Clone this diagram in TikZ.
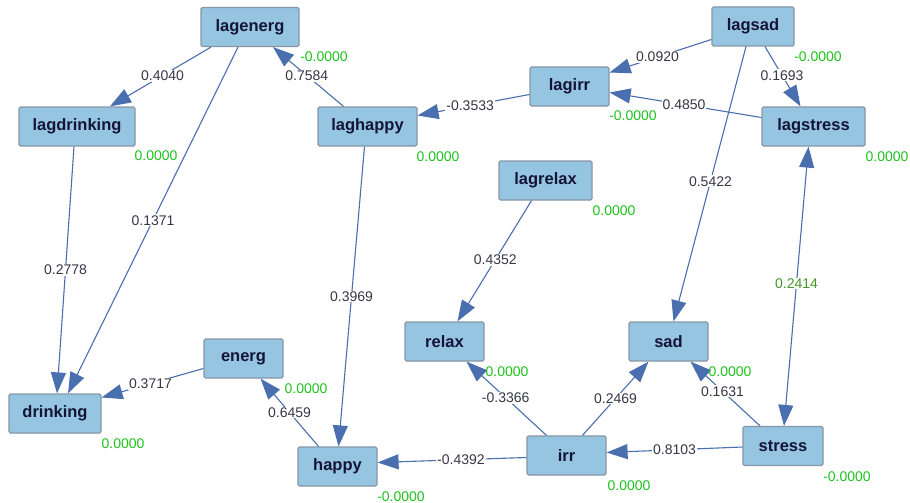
\documentclass[tikz,border=0pt]{standalone}
\usepackage{fontspec}
\setmainfont{Liberation Sans}
\usetikzlibrary{arrows.meta}
\definecolor{boxfill}{RGB}{150,197,226}
\definecolor{boxdraw}{RGB}{135,150,165}
\definecolor{boxtext}{RGB}{20,20,55}
\definecolor{edgecol}{RGB}{74,111,175}
\definecolor{lblcol}{RGB}{55,55,70}
\definecolor{varcol}{RGB}{30,195,30}
\definecolor{covcol}{RGB}{70,150,40}
\begin{document}
\begin{tikzpicture}[x=1pt,y=-1pt,
 box/.style={draw=boxdraw, line width=1.2pt, fill=boxfill, rounded corners=1.5pt, minimum height=39pt, inner sep=0pt, text=boxtext, font=\fontsize{16.5}{18}\selectfont\bfseries},
 pathedge/.style={draw=edgecol, line width=1.1pt, -{Triangle[length=21pt,width=15pt]}},
 covedge/.style={draw=edgecol, line width=1.1pt, {Triangle[length=21pt,width=15pt]}-{Triangle[length=21pt,width=15pt]}},
 lbl/.style={fill=white, inner sep=1pt, text=lblcol, font=\fontsize{14}{16}\selectfont},
 var/.style={inner sep=0pt, text=varcol, font=\fontsize{14}{16}\selectfont},
]
\useasboundingbox (0,0) rectangle (910,503);
\fill[white] (0,0) rectangle (910,503);

\node[box, minimum width=98pt] (lagenerg) at (250,27) {lagenerg};
\node[box, minimum width=116pt] (lagdrinking) at (77,126.5) {lagdrinking};
\node[box, minimum width=99pt] (laghappy) at (367.5,126.5) {laghappy};
\node[box, minimum width=82pt] (lagsad) at (753,26.5) {lagsad};
\node[box, minimum width=79pt] (lagirr) at (569.5,86.5) {lagirr};
\node[box, minimum width=103pt] (lagstress) at (813.5,126.5) {lagstress};
\node[box, minimum width=93pt] (lagrelax) at (545.5,180.5) {lagrelax};
\node[box, minimum width=92pt] (drinking) at (55,413.5) {drinking};
\node[box, minimum width=79pt] (energ) at (243.5,358.5) {energ};
\node[box, minimum width=79pt] (happy) at (337.5,466.5) {happy};
\node[box, minimum width=79pt] (relax) at (444.5,341.5) {relax};
\node[box, minimum width=79pt] (sad) at (668.5,341.5) {sad};
\node[box, minimum width=79pt] (irr) at (566.5,455.5) {irr};
\node[box, minimum width=80pt] (stress) at (783,446) {stress};

\draw[pathedge] ([xshift=-39pt]lagenerg.south) -- node[lbl,pos=.48]{0.4040} ([xshift=33pt]lagdrinking.north);
\draw[pathedge] ([xshift=-12pt]lagenerg.south) -- node[lbl,pos=.5]{0.1371} ([xshift=13pt]drinking.north);
\draw[pathedge] ([xshift=-24pt]laghappy.north) -- node[lbl,pos=.52]{0.7584} ([xshift=23pt]lagenerg.south);
\draw[pathedge] ([xshift=-3pt]lagdrinking.south) -- node[lbl,pos=.5]{0.2778} ([xshift=2pt]drinking.north);
\draw[pathedge] ([yshift=-8pt]lagirr.west) -- node[lbl,pos=.53]{-0.3533} ([yshift=11pt]laghappy.east);
\draw[pathedge] ([yshift=-13pt]lagsad.west) -- node[lbl,pos=.53]{0.0920} ([yshift=14pt]lagirr.east);
\draw[pathedge] ([xshift=12pt]lagsad.south) -- node[lbl,pos=.48]{0.1693} ([xshift=-13pt]lagstress.north);
\draw[pathedge] ([yshift=9pt]lagstress.west) -- node[lbl,pos=.51]{0.4850} ([yshift=-6pt]lagirr.east);
\draw[pathedge] ([xshift=-7pt]lagsad.south) -- node[lbl,pos=.49]{0.5422} ([xshift=5pt]sad.north);
\draw[pathedge] ([xshift=-3pt]laghappy.south) -- node[lbl,pos=.5]{0.3969} ([xshift=1pt]happy.north);
\draw[pathedge] ([xshift=-14pt]lagrelax.south) -- node[lbl,pos=.49]{0.4352} ([xshift=13pt]relax.north);
\draw[covedge] ([xshift=-5pt]lagstress.south) -- node[lbl,text=covcol,pos=.49]{0.2414} ([xshift=1pt]stress.north);
\draw[pathedge] ([yshift=-10pt]energ.west) -- node[lbl,pos=.52]{0.3717} ([yshift=16pt]drinking.east);
\draw[pathedge] ([xshift=-19pt]happy.north) -- node[lbl,pos=.5]{0.6459} ([xshift=17pt]energ.south);
\draw[pathedge] ([xshift=-20pt]irr.north) -- node[lbl,pos=.51]{-0.3366} ([xshift=22pt]relax.south);
\draw[pathedge] ([xshift=16pt]irr.north) -- node[lbl,pos=.5]{0.2469} ([xshift=-20pt]sad.south);
\draw[pathedge] ([xshift=-23pt]stress.north) -- node[lbl,pos=.54]{0.1631} ([xshift=22pt]sad.south);
\draw[pathedge] ([yshift=-2pt]irr.west) -- node[lbl,pos=.44]{-0.4392} ([yshift=4pt]happy.east);
\draw[pathedge] ([yshift=-1pt]stress.west) -- node[lbl,pos=.5]{0.8103} ([yshift=3pt]irr.east);

\node[var] (v1) at (324,57) {-0.0000};
\node[var] (v2) at (156,156) {0.0000};
\node[var] (v3) at (438,157) {0.0000};
\node[var] (v4) at (818,57) {-0.0000};
\node[var] (v5) at (633,116) {-0.0000};
\node[var] (v6) at (887,157) {0.0000};
\node[var] (v7) at (614,211) {0.0000};
\node[var] (v8) at (123,444) {0.0000};
\node[var] (v9) at (306,389) {0.0000};
\node[var] (v10) at (401,497) {-0.0000};
\node[var] (v11) at (507,372) {0.0000};
\node[var] (v12) at (730,372) {0.0000};
\node[var] (v13) at (629,486) {0.0000};
\node[var] (v14) at (847,477) {-0.0000};
\end{tikzpicture}
\end{document}
